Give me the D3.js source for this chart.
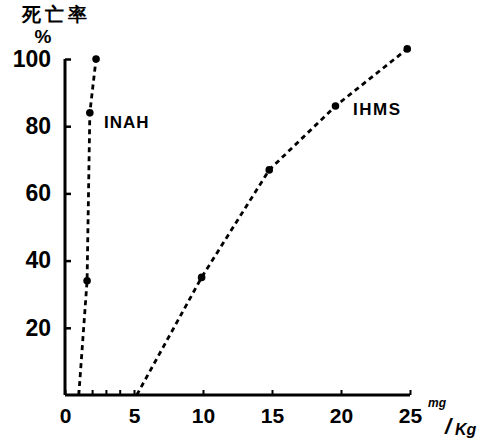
<!DOCTYPE html>
<html>
<head>
<meta charset="utf-8">
<script src="https://cdn.jsdelivr.net/npm/d3@7"></script>
<style>
  body { margin: 0; background: #fff; }
  text { font-family: "Liberation Sans", Arial, sans-serif; fill: #000; }
</style>
</head>
<body>
<div id="chart"></div>
<script>
// dose (mg/kg) and mortality (%)
const inahDose = [1.0, 1.6, 1.8, 2.25];
const inahRate = [0, 34, 84, 100];
const inahMarked = [false, true, true, true];

const ihmsDose = [5.2, 9.9, 14.8, 19.6, 24.8];
const ihmsRate = [0, 35, 67, 86, 103];
const ihmsMarked = [false, true, true, true, true];

const xTicks = [0, 5, 10, 15, 20, 25];
const xMinorTicks = [1, 2, 3, 4];
const yTicks = [20, 40, 60, 80, 100];

const width = 479, height = 443;

let svg = d3.select("#chart").append("svg")
    .attr("width", width).attr("height", height);

let x = d3.scaleLinear().domain([0, 25]).range([65, 410]);
let y = d3.scaleLinear().domain([0, 100]).range([395, 59]);

// y axis, ticks pointing inward
svg.append("g")
    .attr("transform", `translate(${x(0)},0)`)
    .call(d3.axisLeft(y).tickValues(yTicks).tickSize(-6).tickSizeOuter(0).tickPadding(14))
    .call(g => g.select(".domain").attr("stroke-width", 3).attr("d", `M0,${y(0)}V${y(100)}`))
    .call(g => g.selectAll(".tick line").attr("stroke-width", 2.5))
    .call(g => g.selectAll(".tick text").attr("font-size", 23).attr("font-weight", "bold")
        .attr("font-family", "Liberation Sans, Arial, sans-serif"));

// x axis
svg.append("g")
    .attr("transform", `translate(0,${y(0)})`)
    .call(d3.axisBottom(x).tickValues(xTicks).tickSize(-5).tickSizeOuter(0).tickPadding(13))
    .call(g => g.select(".domain").attr("stroke-width", 3).attr("d", `M${x(0)},0H${x(25)}`))
    .call(g => g.selectAll(".tick line").attr("stroke-width", 2))
    .call(g => g.selectAll(".tick text").attr("font-size", 21).attr("font-weight", "bold")
        .attr("font-family", "Liberation Sans, Arial, sans-serif"));

svg.append("g")
    .selectAll("line")
    .data(xMinorTicks)
    .join("line")
    .attr("x1", d => x(d)).attr("x2", d => x(d))
    .attr("y1", y(0)).attr("y2", y(0) - 5)
    .attr("stroke", "#000").attr("stroke-width", 2);

// dashed series
const line = d3.line().x(d => x(d.dose)).y(d => y(d.rate));

function drawSeries(dose, rate, marked) {
  const pts = dose.map((d, i) => ({dose: d, rate: rate[i], mark: marked[i]}));
  svg.append("path")
      .datum(pts)
      .attr("d", line)
      .attr("fill", "none")
      .attr("stroke", "#000")
      .attr("stroke-width", 2.8)
      .attr("stroke-dasharray", "5,4");
  svg.append("g")
      .selectAll("circle")
      .data(pts.filter(p => p.mark))
      .join("circle")
      .attr("cx", d => x(d.dose))
      .attr("cy", d => y(d.rate))
      .attr("r", 3.8)
      .attr("fill", "#000");
}
drawSeries(inahDose, inahRate, inahMarked);
drawSeries(ihmsDose, ihmsRate, ihmsMarked);

// series labels
svg.append("text").attr("x", 104).attr("y", 128)
    .attr("font-size", 17).attr("font-weight", "bold").attr("letter-spacing", 1).text("INAH");
svg.append("text").attr("x", 353).attr("y", 115)
    .attr("font-size", 17).attr("font-weight", "bold").attr("letter-spacing", 1.5).text("IHMS");

// y title
svg.append("text").attr("x", 56).attr("y", 21)
    .attr("text-anchor", "middle")
    .attr("font-family", "Noto Sans CJK JP")
    .attr("font-weight", "bold")
    .attr("font-size", 19).attr("letter-spacing", 4)
    .text("死亡率");
svg.append("text").attr("x", 43).attr("y", 43)
    .attr("text-anchor", "middle").attr("font-weight", "bold")
    .attr("font-size", 19).text("%");

// unit
svg.append("text").attr("x", 428).attr("y", 407)
    .attr("font-size", 12).attr("font-style", "italic").attr("font-weight", "bold").text("mg");
svg.append("text").attr("x", 445).attr("y", 434)
    .attr("font-size", 22).attr("font-style", "italic").attr("font-weight", "bold").text("/");
svg.append("text").attr("x", 455).attr("y", 435)
    .attr("font-size", 16).attr("font-style", "italic").attr("font-weight", "bold").text("Kg");
</script>
</body>
</html>
